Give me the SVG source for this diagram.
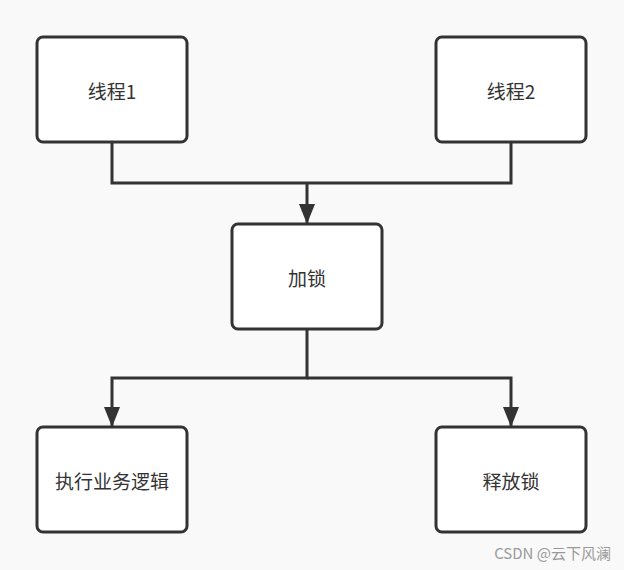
<svg xmlns="http://www.w3.org/2000/svg" width="624" height="570" viewBox="0 0 624 570">
<style>
.n{fill:#fff;stroke:#333;stroke-width:3}
.t{font-family:"Noto Sans CJK SC","Noto Sans",sans-serif;font-size:19px;fill:#333;text-anchor:middle;dominant-baseline:central}
.c{fill:none;stroke:#333;stroke-width:3}
</style>
<defs><marker id="a" markerWidth="6" markerHeight="7" refX="3" refY="6" orient="auto" markerUnits="userSpaceOnUse" viewBox="0 0 6 7"><path d="M0,0L6,0L3,6z" fill="#333"/></marker>
<marker id="b" viewBox="0 0 16 20" refX="8" refY="20" markerWidth="16" markerHeight="20" markerUnits="userSpaceOnUse" orient="0"><path d="M0,0L16,0L8,20z" fill="#333"/></marker></defs>
<rect width="624" height="570" fill="#f9f9f9"/>
<g id="connectors">
<path class="c" d="M112,142V183H511V142"/>
<path class="c" d="M307,183V224" marker-end="url(#b)"/>
<path class="c" d="M307,329V378H112V427" marker-end="url(#b)"/>
<path class="c" d="M307,378H511V427" marker-end="url(#b)"/>
</g>
<g id="n1"><rect class="n" x="37" y="37" width="150" height="105" rx="6"/><text class="t" x="112" y="90">线程1</text></g>
<g id="n2"><rect class="n" x="436" y="37" width="150" height="105" rx="6"/><text class="t" x="511" y="90">线程2</text></g>
<g id="n3"><rect class="n" x="232" y="224" width="150" height="105" rx="6"/><text class="t" x="307" y="277">加锁</text></g>
<g id="n4"><rect class="n" x="37" y="427" width="150" height="105" rx="6"/><text class="t" x="112" y="480">执行业务逻辑</text></g>
<g id="n5"><rect class="n" x="436" y="427" width="150" height="105" rx="6"/><text class="t" x="511" y="480">释放锁</text></g>
<text x="611" y="552" font-family="Noto Sans CJK SC,sans-serif" font-size="15" fill="#999" text-anchor="end" dominant-baseline="central">CSDN @云下风澜</text>
</svg>
